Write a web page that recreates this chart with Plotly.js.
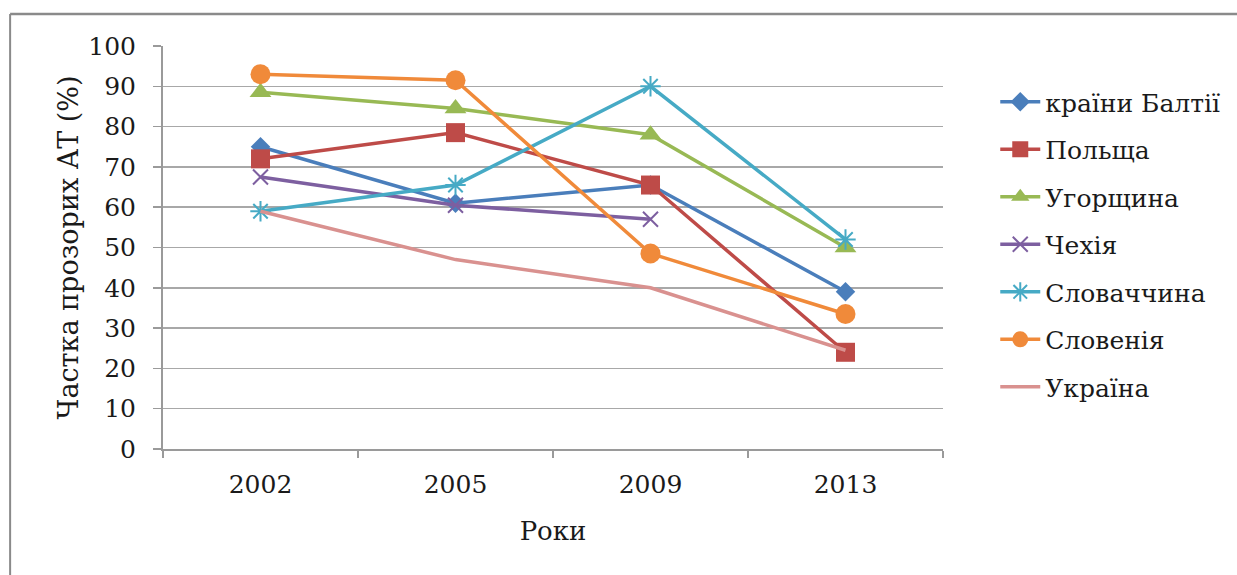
<!DOCTYPE html>
<html>
<head>
<meta charset="utf-8">
<script src="https://cdn.plot.ly/plotly-3.0.1.min.js"></script>
<style>
html,body{margin:0;padding:0;background:#fff;}
#chart{width:1237px;height:575px;}
</style>
</head>
<body>
<div id="chart"></div>
<script>
const years = ["2002", "2005", "2009", "2013"];
const seriesNames = ["країни Балтії", "Польща", "Угорщина", "Чехія", "Словаччина", "Словенія", "Україна"];
const baltic   = [75, 61, 65.5, 39];
const poland   = [72, 78.5, 65.5, 24];
const hungary  = [88.5, 84.5, 78, 50];
const czech    = [67.5, 60.5, 57, null];
const slovakia = [59, 65.5, 90, 52];
const slovenia = [93, 91.5, 48.5, 33.5];
const ukraine  = [59, 47, 40, 24.5];
const yTicks = [0, 10, 20, 30, 40, 50, 60, 70, 80, 90, 100];

const values = [baltic, poland, hungary, czech, slovakia, slovenia, ukraine];
const colors = ["#4A7EBB", "#BE4B48", "#98B954", "#7D5FA0", "#46AAC5", "#F08A3A", "#D9918F"];
const markers = [
  {symbol: "diamond", size: 15},
  {symbol: "square", size: 19},
  {symbol: "triangle-up", size: 19},
  {symbol: "x-thin", size: 15, line: true},
  {symbol: "asterisk", size: 17, line: true},
  {symbol: "circle", size: 20},
  null
];

const serif = "DejaVu Serif";
const txt = "#1a1a1a";
const traces = seriesNames.map((name, i) => {
  const m = markers[i];
  const t = {
    x: years, y: values[i], name: name, type: "scatter",
    legendgroup: name,
    mode: m ? "lines+markers" : "lines",
    line: {color: colors[i], width: 3.5},
    connectgaps: false
  };
  if (m) {
    t.marker = {symbol: m.symbol, size: m.size, color: colors[i],
      line: m.line ? {color: colors[i], width: 2} : {width: 0}};
  }
  return t;
});

const layout = {
  width: 1237, height: 575,
  margin: {l: 163, r: 294, t: 46, b: 126},
  paper_bgcolor: "#fff", plot_bgcolor: "#fff",
  font: {family: serif, size: 25, color: txt},
  showlegend: true,
  legend: {x: 1.067, xanchor: "left", y: 0.918, yanchor: "top",
    font: {family: serif, size: 25, color: txt},
    tracegroupgap: 12, itemwidth: 40, bgcolor: "rgba(0,0,0,0)"},
  xaxis: {
    type: "category", range: [-0.5, 3.5], fixedrange: true,
    tickson: "boundaries", ticks: "outside", ticklen: 7, tickcolor: "#9a9a9a", tickwidth: 1.5,
    showline: true, linecolor: "#9a9a9a", linewidth: 2,
    showgrid: false, ticklabelstandoff: 12,
    tickfont: {family: serif, size: 25, color: txt},
    title: {text: "Роки", standoff: 24, font: {family: serif, size: 26, color: txt}}
  },
  yaxis: {
    range: [0, 100], tickvals: yTicks, ticktext: yTicks.map(String), fixedrange: true,
    ticks: "outside", ticklen: 8, tickcolor: "#9a9a9a", tickwidth: 1.5,
    showline: true, linecolor: "#9a9a9a", linewidth: 2,
    showgrid: true, gridcolor: "#a8a8a8", gridwidth: 1.5, zeroline: false,
    ticklabelstandoff: 12,
    tickfont: {family: serif, size: 25, color: txt},
    title: {text: "Частка прозорих АТ (%)", standoff: 2, font: {family: serif, size: 27, color: txt}}
  },
  shapes: [
    {type: "line", xref: "paper", yref: "paper", x0: -0.196, x1: 1.4, y0: 1.0794, y1: 1.0794,
      line: {color: "#8a8a8a", width: 2.5}},
    {type: "line", xref: "paper", yref: "paper", x0: -0.196, x1: -0.196, y0: 1.0794, y1: -0.32,
      line: {color: "#8a8a8a", width: 2}}
  ]
};

Plotly.newPlot("chart", traces, layout, {displayModeBar: false, staticPlot: true});
</script>
</body>
</html>
